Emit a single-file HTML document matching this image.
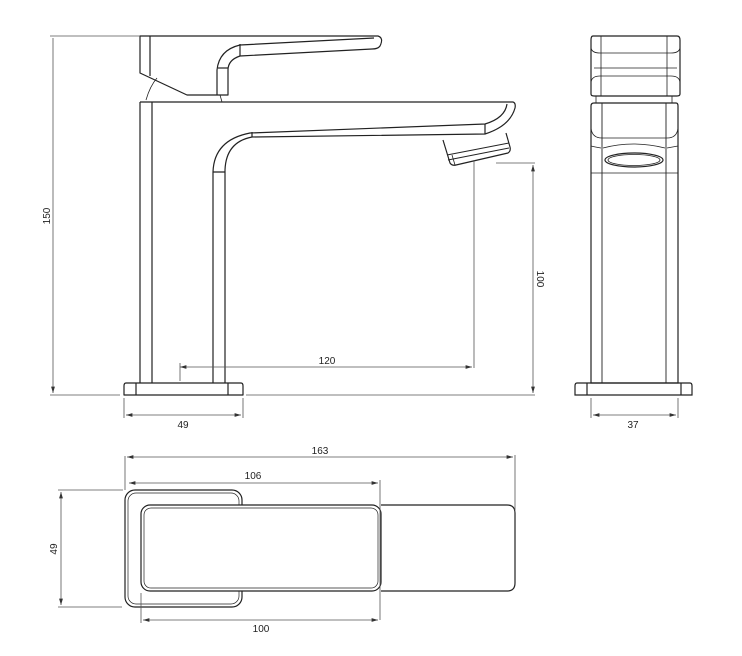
<!DOCTYPE html>
<html><head><meta charset="utf-8"><style>
html,body{margin:0;padding:0;background:#fff;}
svg{display:block}
text{font-family:"Liberation Sans",sans-serif;font-size:10px;fill:#222}
</style></head><body>
<svg width="742" height="656" viewBox="0 0 742 656" xmlns="http://www.w3.org/2000/svg">
<defs>
<marker id="a" viewBox="0 0 10 6" refX="10" refY="3" markerWidth="8" markerHeight="5" orient="auto-start-reverse"><path d="M0,0L10,3L0,6z" fill="#333"/></marker>
</defs>
<g fill="none" stroke="#222" stroke-width="1.2" stroke-linejoin="round">
<!-- side view handle -->
<path d="M140,36 L378,36 Q384,38 380,46 Q378,49 372,49 L240,56 Q228,60 228,70 L228,95 L187,95 L140,73 Z"/>
<path d="M150,36 L150,76"/>
<path d="M217,95 L217,70 Q219,50 240,45 L374,38"/>
<path d="M240,44 L240,56"/>
<path d="M218,68 L228,68"/>
<path d="M146,100 Q150,86 157,78" stroke-width="0.8"/>
<path d="M220,95 L222,102" stroke-width="0.8"/>
<!-- spout/body -->
<path d="M140,102 L513,102 Q516,103 515,108 Q510,126 485,134 L252,137 Q226,142 225,170 L225,383"/>
<path d="M140,102 L140,383 M152,102 L152,383"/>
<path d="M213,383 L213,172 Q214,140 250,133 L485,124 Q505,118 507,104"/>
<path d="M252,132 L252,137 M485,124 L485,134 M213,172 L225,172"/>
<!-- aerator -->
<path d="M443,140 L450,163 Q452,166 456,165 L508,153 Q511,151 510,147 L506,133"/>
<path d="M447,155 L509,143 M448,160 L509,148" stroke-width="0.9"/>
<path d="M452,155 L455,165" stroke-width="0.8"/>
<!-- base -->
<path d="M126,383 L241,383 Q243,383 243,386 L243,395 L124,395 L124,386 Q124,383 126,383 Z"/>
<path d="M136,383 L136,395 M228,383 L228,395"/>
</g>
<!-- dimension lines side view -->
<g fill="none" stroke="#555" stroke-width="0.8">
<path d="M50,36 L140,36 M50,395 L120,395 M246,395 L535,395"/>
<path d="M53,38 L53,393" marker-end="url(#a)"/>
<path d="M474,160 L474,368 M496,163 L535,163"/>
<path d="M533,165 L533,393" marker-start="url(#a)" marker-end="url(#a)"/>
<path d="M180,367 L472,367" marker-start="url(#a)" marker-end="url(#a)"/>
<path d="M180,363 L180,381"/>
<path d="M124,398 L124,418 M243,398 L243,418"/>
<path d="M126,415 L241,415" marker-start="url(#a)" marker-end="url(#a)"/>
<path d="M591,398 L591,418 M678,398 L678,418"/>
<path d="M593,415 L676,415" marker-start="url(#a)" marker-end="url(#a)"/>
</g>
<text x="183" y="428" text-anchor="middle">49</text>
<text x="327" y="364" text-anchor="middle">120</text>
<text x="633" y="428" text-anchor="middle">37</text>
<text transform="translate(50,216) rotate(-90)" text-anchor="middle">150</text>
<text transform="translate(537,279) rotate(90)" text-anchor="middle">100</text>
<!-- front view -->
<g fill="none" stroke="#222" stroke-width="1.2">
<path d="M593,36 L677,36 Q680,36 680,40 L680,94 Q680,96 677,96 L594,96 Q591,96 591,94 L591,40 Q591,36 593,36 Z"/>
<path d="M601,36 L601,96 M667,36 L667,96" stroke-width="0.8"/>
<path d="M591,48 Q592,53 600,53 L671,53 Q679,53 680,48 M594,68 L677,68 M591,82 Q592,76 600,76 L671,76 Q679,76 680,82" stroke-width="0.8"/>
<path d="M596,96 L596,103 M672,96 L672,103" stroke-width="0.8"/>
<path d="M594,103 L676,103 Q678,103 678,106 L678,383 L591,383 L591,106 Q591,103 594,103 Z"/>
<path d="M602,103 L602,383 M666,103 L666,383" stroke-width="0.9"/>
<path d="M591,128 Q592,138 602,138 L667,138 Q677,138 678,128 M591,146 Q595,147 601,148 M678,146 L667,148 M591,173 L678,173" stroke-width="0.8"/>
<path d="M603,148 Q633,140 665,148" stroke-width="0.8"/>
<ellipse cx="634" cy="160" rx="29" ry="7"/>
<ellipse cx="634" cy="160" rx="26" ry="5.5" stroke-width="0.8"/>
<path d="M577,383 L690,383 Q692,383 692,386 L692,395 L575,395 L575,386 Q575,383 577,383 Z"/>
<path d="M587,383 L587,395 M681,383 L681,395"/>
</g>
<!-- top view -->
<g fill="none" stroke="#222" stroke-width="1.2">
<rect x="125" y="490" width="117" height="117" rx="10"/>
<rect x="128" y="493" width="111" height="111" rx="8" stroke-width="0.7"/>
<path d="M381,505 L507,505 Q515,505 515,513 L515,583 Q515,591 507,591 L381,591"/>
<rect x="141" y="505" width="240" height="86" rx="9" fill="#fff"/>
<rect x="144" y="508" width="234" height="80" rx="7" stroke-width="0.7"/>
</g>
<g fill="none" stroke="#555" stroke-width="0.8">
<path d="M125,456 L125,490 M515,455 L515,510"/>
<path d="M127,457 L513,457" marker-start="url(#a)" marker-end="url(#a)"/>
<path d="M380,480 L380,620"/>
<path d="M129,483 L378,483" marker-start="url(#a)" marker-end="url(#a)"/>
<path d="M58,490 L123,490 M58,607 L122,607"/>
<path d="M61,492 L61,605" marker-start="url(#a)" marker-end="url(#a)"/>
<path d="M141,593 L141,623"/>
<path d="M143,620 L378,620" marker-start="url(#a)" marker-end="url(#a)"/>
</g>
<text x="320" y="454" text-anchor="middle">163</text>
<text x="253" y="479" text-anchor="middle">106</text>
<text x="261" y="632" text-anchor="middle">100</text>
<text transform="translate(57,549) rotate(-90)" text-anchor="middle">49</text>
</svg>
</body></html>
